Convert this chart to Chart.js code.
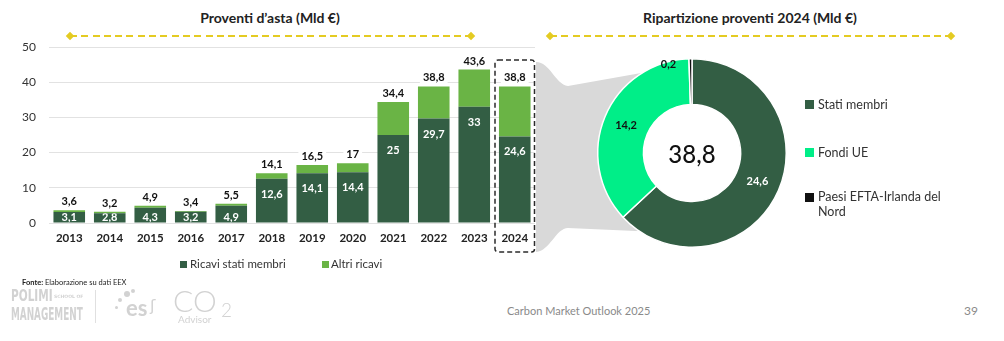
<!DOCTYPE html>
<html>
<head>
<meta charset="utf-8">
<script src="https://cdn.jsdelivr.net/npm/chart.js@4.4.1/dist/chart.umd.min.js"></script>
<style>
  html, body { margin: 0; padding: 0; background: #fff; }
  body { width: 1004px; height: 341px; position: relative; overflow: hidden;
         font-family: Lato, "Open Sans", sans-serif; color: #222; }
  .abs { position: absolute; white-space: nowrap; }
  .title { font-weight: bold; font-size: 14px; color: #222; top: 9px; transform: translateX(-50%); }
  .rule { position: absolute; top: 35px; height: 2px;
          background: repeating-linear-gradient(90deg, #e4cb22 0 7px, transparent 7px 11.3px); }
  .rule::before, .rule::after { content: ""; position: absolute; width: 6px; height: 6px;
          background: #e4cb22; transform: rotate(45deg); top: -2px; }
  .rule::before { left: -3px; }
  .rule::after { right: -3px; }
  .sw { position: absolute; }
  .leg { font-size: 11.5px; color: #333; }
  .pleg { font-size: 12.5px; color: #333; line-height: 15px; }
  .logo { color: #d2d2d2; }
  canvas { position: absolute; }
</style>
</head>
<body>

<div class="abs title" style="left:270px">Proventi d’asta (Mld €)</div>
<div class="abs title" style="left:750px">Ripartizione proventi 2024 (Mld €)</div>
<div class="rule" style="left:70px; width:401px"></div>
<div class="rule" style="left:550px; width:401px"></div>

<canvas id="bar" width="545" height="260" style="left:0; top:0"></canvas>
<canvas id="pie" width="314" height="200" style="left:535px; top:53px"></canvas>

<!-- bar legend -->
<div class="sw" style="left:180px; top:261px; width:7px; height:7px; background:#335e44"></div>
<div class="abs leg" style="left:190px; top:257px">Ricavi stati membri</div>
<div class="sw" style="left:322px; top:261px; width:7px; height:7px; background:#6ab445"></div>
<div class="abs leg" style="left:331px; top:257px">Altri ricavi</div>

<!-- doughnut legend -->
<div class="sw" style="left:805px; top:100px; width:9px; height:9px; background:#335e44"></div>
<div class="abs pleg" style="left:818px; top:97px">Stati membri</div>
<div class="sw" style="left:805px; top:148px; width:9px; height:9px; background:#00ee88"></div>
<div class="abs pleg" style="left:818px; top:145px">Fondi UE</div>
<div class="sw" style="left:805px; top:193px; width:9px; height:9px; background:#111"></div>
<div class="abs pleg" style="left:818px; top:189px">Paesi EFTA-Irlanda del<br>Nord</div>

<!-- footer -->
<div class="abs" style="left:22px; top:278px; font-size:7.5px; color:#222"><b>Fonte:</b> Elaborazione su dati EEX</div>
<div class="abs logo" style="left:11px; top:287px; font:bold 15px 'DejaVu Sans Condensed','DejaVu Sans'; transform:scaleX(0.78); transform-origin:left">POLIMI</div>
<div class="abs logo" style="left:54px; top:294px; font:bold 4.5px 'DejaVu Sans'">SCHOOL OF</div>
<div class="abs logo" style="left:11px; top:304px; font:bold 17px 'DejaVu Sans Condensed','DejaVu Sans'; transform:scaleX(0.58); transform-origin:left">MANAGEMENT</div>
<div class="sw" style="left:95px; top:290px; width:1px; height:33px; background:#e0e0e0"></div>
<div class="sw" style="left:118px; top:298px; width:4px; height:4px; border-radius:50%; background:#d2d2d2"></div>
<div class="sw" style="left:124px; top:291px; width:6px; height:6px; border-radius:50%; background:#d2d2d2"></div>
<div class="sw" style="left:131px; top:289px; width:4px; height:4px; border-radius:50%; background:#d2d2d2"></div>
<div class="sw" style="left:115px; top:306px; width:3px; height:3px; border-radius:50%; background:#d2d2d2"></div>
<div class="abs logo" style="left:126px; top:294px; font:bold 22px Lato">es</div>
<div class="abs logo" style="left:150px; top:296px; font:16px 'DejaVu Sans'">ʃ</div>
<div class="abs logo" style="left:173px; top:282px; font:300 30px Lato">CO</div>
<div class="abs logo" style="left:221px; top:298px; font:300 19px Lato">2</div>
<div class="abs logo" style="left:178px; top:313px; font:10px Lato">Advisor</div>
<div class="abs" style="left:507px; top:304px; font-size:11px; color:#8a8a8a">Carbon Market Outlook 2025</div>
<div class="abs" style="left:964px; top:303px; font-size:12px; color:#8a8a8a">39</div>

<script>
// ---- auction revenue by year (bn €) ----
const years   = ['2013','2014','2015','2016','2017','2018','2019','2020','2021','2022','2023','2024'];
const membri  = [3.1, 2.8, 4.3, 3.2, 4.9, 12.6, 14.1, 14.4, 25, 29.7, 33, 24.6];
const altri   = [0.5, 0.4, 0.6, 0.2, 0.6, 1.5, 2.4, 2.6, 9.4, 9.1, 10.6, 14.2];
const totali  = [3.6, 3.2, 4.9, 3.4, 5.5, 14.1, 16.5, 17, 34.4, 38.8, 43.6, 38.8];
const yTicks  = [0, 10, 20, 30, 40, 50];

// ---- 2024 split (bn €) ----
const quoteLabels = ['Stati membri', 'Fondi UE', 'Paesi EFTA-Irlanda del Nord'];
const quote       = [24.6, 14.2, 0.2];
const totale2024  = 38.8;

const DARK = '#335e44', LIGHT = '#6ab445', MINT = '#00ee88', BLACK = '#111111';
const FONT = 'Lato, "Open Sans", sans-serif';
const fmt = v => String(v).replace('.', ',');

// value labels inside and above the stacked bars, plus the dashed frame on the last year
const barDecor = {
  id: 'barDecor',
  afterDatasetsDraw(chart) {
    const { ctx, scales: { x, y }, chartArea } = chart;
    const m0 = chart.getDatasetMeta(0);
    ctx.save();
    ctx.textAlign = 'center';
    ctx.textBaseline = 'middle';
    ctx.font = 'bold 11px ' + FONT;
    m0.data.forEach((bar, i) => {
      const ly = Math.min(bar.y + 15.5, bar.base - 5.5);
      ctx.save();
      ctx.beginPath();
      ctx.rect(bar.x - bar.width / 2, bar.y, bar.width, bar.base - bar.y);
      ctx.clip();
      ctx.fillStyle = '#ffffff';
      ctx.fillText(fmt(membri[i]), bar.x, ly);
      ctx.restore();
    });
    totali.forEach((t, i) => {
      const cx = x.getPixelForValue(i);
      const ty = y.getPixelForValue(t) - 8.5;
      const txt = fmt(t);
      const w = ctx.measureText(txt).width;
      ctx.fillStyle = '#ffffff';
      ctx.fillRect(cx - w / 2 - 3, ty - 7, w + 6, 14);
      ctx.fillStyle = '#111';
      ctx.fillText(txt, cx, ty);
    });
    // dashed frame around the final category
    const last = years.length - 1;
    const half = (chartArea.right - chartArea.left) / years.length / 2;
    const cx = x.getPixelForValue(last);
    const x0 = cx - half + 0.5, x1 = cx + half - 0.5;
    const y0 = y.getPixelForValue(y.max) + 13, y1 = chartArea.bottom + 29;
    ctx.setLineDash([5, 3]);
    ctx.lineWidth = 1.5;
    ctx.strokeStyle = '#2b2b2b';
    ctx.beginPath();
    ctx.roundRect(x0, y0, x1 - x0, y1 - y0, 3);
    ctx.stroke();
    ctx.restore();
  }
};

new Chart(document.getElementById('bar'), {
  type: 'bar',
  data: {
    labels: years,
    datasets: [
      { label: 'Ricavi stati membri', data: membri, backgroundColor: DARK, stack: 's',
        barPercentage: 0.78, categoryPercentage: 1 },
      { label: 'Altri ricavi', data: altri, backgroundColor: LIGHT, stack: 's',
        barPercentage: 0.78, categoryPercentage: 1 }
    ]
  },
  options: {
    responsive: false, animation: false, devicePixelRatio: 1,
    layout: { padding: { top: 47, right: 10, left: 0, bottom: 0 } },
    plugins: { legend: { display: false }, tooltip: { enabled: false } },
    scales: {
      x: {
        stacked: true,
        grid: { display: false, drawTicks: false },
        border: { display: false },
        ticks: { color: '#222', padding: 8, font: { family: FONT, size: 11.5, weight: 'bold' } },
        afterFit(s) { s.height = 37; }
      },
      y: {
        stacked: true, min: yTicks[0], max: yTicks[yTicks.length - 1],
        afterBuildTicks(s) { s.ticks = yTicks.map(v => ({ value: v })); },
        grid: { color: '#e2e2e2', drawTicks: false },
        border: { display: false },
        ticks: { color: '#333', padding: 13, font: { family: FONT, size: 12 } },
        afterFit(s) { s.width = 49; }
      }
    }
  },
  plugins: [barDecor]
});

// grey zoom connector behind the doughnut, and the slice/centre labels
const pieDecor = {
  id: 'pieDecor',
  beforeDatasetsDraw(chart) {
    const { ctx } = chart;
    const arc = chart.getDatasetMeta(0).data[0];
    const ox = 535, oy = 53;           // canvas offset on the page
    const P = (px, py) => [px - ox, py - oy];
    const R = arc.outerRadius - 1;
    const aTop = -120 * Math.PI / 180, aBot = 123 * Math.PI / 180;
    ctx.save();
    ctx.fillStyle = '#d9d9d9';
    ctx.beginPath();
    ctx.moveTo(...P(536, 62));
    ctx.bezierCurveTo(...P(550, 62), ...P(555, 84), ...P(568, 86));
    ctx.lineTo(arc.x + Math.cos(aTop) * R, arc.y + Math.sin(aTop) * R);
    ctx.arc(arc.x, arc.y, R, aTop, aBot, true);
    ctx.lineTo(...P(568, 228));
    ctx.bezierCurveTo(...P(556, 228), ...P(550, 251), ...P(536, 252));
    ctx.closePath();
    ctx.fill();
    ctx.restore();
  },
  afterDatasetsDraw(chart) {
    const { ctx } = chart;
    const meta = chart.getDatasetMeta(0);
    ctx.save();
    ctx.textAlign = 'center';
    ctx.textBaseline = 'middle';
    ctx.font = 'bold 11px ' + FONT;
    meta.data.forEach((a, i) => {
      let ang = (a.startAngle + a.endAngle) / 2;
      let r = (a.innerRadius + a.outerRadius) / 2;
      if (i === 2) { ang -= 0.245; r = a.outerRadius - 3; }
      ctx.fillStyle = i === 0 ? '#ffffff' : '#111';
      ctx.fillText(fmt(quote[i]), a.x + Math.cos(ang) * r, a.y + Math.sin(ang) * r);
    });
    const a0 = meta.data[0];
    ctx.font = '500 24px ' + FONT;
    ctx.fillStyle = '#111';
    ctx.fillText(fmt(totale2024), a0.x, a0.y + 2);
    ctx.restore();
  }
};

new Chart(document.getElementById('pie'), {
  type: 'doughnut',
  data: {
    labels: quoteLabels,
    datasets: [{ data: quote, backgroundColor: [DARK, MINT, BLACK],
                 borderColor: '#ffffff', borderWidth: 1.5 }]
  },
  options: {
    responsive: false, animation: false, devicePixelRatio: 1,
    cutout: '51.5%', rotation: 0,
    layout: { padding: 5 },
    plugins: { legend: { display: false }, tooltip: { enabled: false } }
  },
  plugins: [pieDecor]
});
</script>
</body>
</html>
